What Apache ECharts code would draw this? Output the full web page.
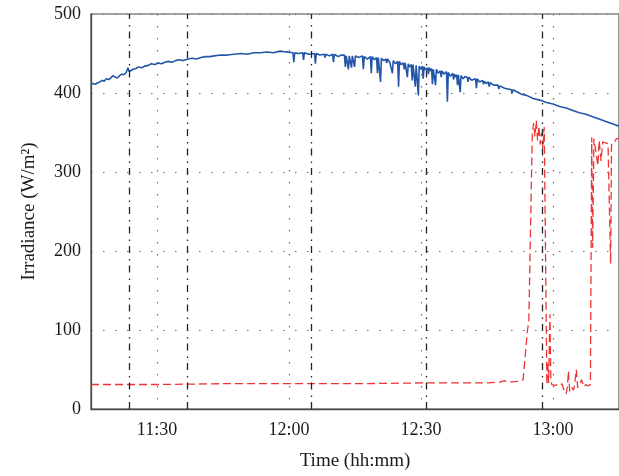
<!DOCTYPE html>
<html>
<head>
<meta charset="utf-8">
<title>Irradiance</title>
<script src="https://cdn.jsdelivr.net/npm/echarts@6/dist/echarts.min.js"></script>
<style>
  html, body { margin: 0; padding: 0; background: #fff; }
  #chart { width: 619px; height: 476px; }
</style>
</head>
<body>
<div id="chart"></div>
<script>
// Time is expressed in minutes since midnight (675 = 11:15, 795 = 13:15).
const timeTicks = [690, 720, 750, 780];
const irradianceTicks = [0, 100, 200, 300, 400, 500];

// Instants marked with dash-dot vertical lines.
const eventTimes = [683.6, 696.8, 725, 751.1, 777.5];

// Global irradiance (solid blue), [minute, W/m²].
const globalIrradiance = [
  [675,411],[675.5,412],[676,411],[676.5,413],[677,414],[677.5,416],[678,415],[678.5,418],
  [679,417],[679.5,419],[680,422],[680.5,420],[681,419],[681.5,422],[682,424],[682.5,423],
  [683,426],[683.4,432],[683.7,427],[684,429],[684.6,430],[685.2,431],[685.8,433],[686.5,432],
  [687.2,434],[688,435],[688.7,437],[689.5,436],[690.3,438],[691,437],[691.8,439],[692.6,440],
  [693.4,439],[694.2,441],[695,442],[696,441],[697,443],[698,444],[699,443],[700,445],
  [701,446],[702,446],[703,447],[704.5,448],[706,448],[707.5,449],[709,450],[710.5,449],
  [712,451],[713.5,451],[715,452],[716.5,451],[718,453],[719.3,452],
  [720.9,451],[721.1,439],[721.3,451],[722.2,450],
  [723.1,451],[723.3,442],[723.5,451],[724.5,449],
  [725.8,450],[726,437],[726.2,450],[727,448],
  [728,449],[728.2,445],[728.4,449],[729.2,447],
  [729.9,449],[730.1,439],[730.3,449],[731.2,446],[731.8,448],
  [732.6,448],[732.8,433],[733,447],[733.3,448],[733.5,430],[733.7,447],
  [734,448],[734.2,432],[734.4,447],[734.7,447],[734.9,433],[735.1,447],[735.8,445],
  [736.7,447],[736.9,430],[737.1,446],[737.8,443],
  [738.5,446],[738.7,425],[738.9,446],[739.4,442],
  [739.9,445],[740.1,425],[740.3,445],[740.6,444],[740.8,414],[741,444],[741.5,441],
  [742,443],[742.2,438],[742.4,443],[742.9,439],
  [743.3,441],[743.5,425],[743.7,441],[744.2,437],
  [744.7,440],[744.9,408],[745.1,440],[745.5,436],
  [746,438],[746.2,430],[746.4,438],
  [746.7,437],[746.9,420],[747.1,437],[747.4,433],
  [747.8,436],[748,416],[748.2,436],[748.5,435],[748.7,408],[748.9,435],
  [749.2,435],[749.4,397],[749.6,434],[749.9,430],
  [750.3,434],[750.5,418],[750.7,433],[751.1,429],
  [751.5,432],[751.7,424],[751.9,432],[752.1,428],
  [752.4,431],[752.6,411],[752.8,430],[753.1,430],[753.3,410],[753.5,430],[753.9,425],
  [754.4,428],[754.6,420],[754.8,428],[755.2,424],
  [755.8,427],[756,389],[756.2,426],[756.7,421],
  [757.2,425],[757.4,417],[757.6,424],[757.9,420],
  [758.1,423],[758.3,410],[758.5,423],[758.7,422],[758.9,401],[759.1,422],[759.6,418],
  [760,421],[760.5,420],[760.7,414],[760.9,420],[761.5,416],
  [762.4,418],[762.6,406],[762.8,418],[763.3,414],
  [764,416],[764.2,411],[764.4,415],[764.8,412],
  [765.3,414],[765.5,408],[765.7,413],[766.5,410],
  [767.5,410],[767.7,405],[767.9,409],[769,406],[769.8,405],
  [770.5,404],[770.7,400],[770.9,404],[772,401],[773,398],
  [774,397],[775.5,393],[777,391],[778.5,388],[780,386],[781.5,383],[783,381],[784.5,378],
  [786,375],[787.5,373],[789,370],[790.5,367],[792,364],[793.5,361],[795,358]
];

// Measured irradiance at the receiver (dashed red), [minute, W/m²].
const receiverIrradiance = [
  [675,31],[690,31],[705,32],[720,32],[735,32],[750,33],[765,33],[768,34],[769,36],
  [769.5,34],[772.5,35],[773.2,37],[774.2,100],[774.5,110],[775.3,350],[775.6,362],
  [775.9,345],[776.2,365],[776.5,340],[776.8,358],[777.1,335],[777.4,350],[777.7,330],
  [778,357],[778.3,200],[778.6,31],[778.8,60],[779,33],[779.3,120],[779.5,40],[779.7,31],
  [780.5,30],[781,31],[781.5,30],[782,32],[782.5,24],[783,19],[783.3,30],[783.5,48],
  [783.8,22],[784.2,27],[784.7,24],[785,35],[785.3,50],[785.6,27],[786,30],[786.5,37],
  [787,28],[787.5,31],[788,29],[788.5,31],[788.8,344],[789,204],[789.3,342],[789.7,340],
  [790.2,308],[790.5,340],[790.9,314],[791.3,338],[792,337],[792.5,336],[792.9,335],
  [793.1,184],[793.3,336],[794,338],[794.4,342],[795,343]
];

const serif = '"Liberation Serif", "DejaVu Serif", serif';

function hhmm(v) {
  const h = Math.floor(v / 60);
  const m = Math.round(v - h * 60);
  return h + ':' + (m < 10 ? '0' + m : m);
}

const chart = echarts.init(document.getElementById('chart'), null, { renderer: 'canvas' });

chart.setOption({
  animation: false,
  backgroundColor: '#ffffff',
  grid: {
    left: 91, right: -1, top: 14, bottom: 63,
    show: true, borderColor: '#4a4a4a', borderWidth: 1.2
  },
  xAxis: {
    type: 'value',
    min: 675,
    max: 795,
    name: 'Time (hh:mm)',
    nameLocation: 'middle',
    nameGap: 43,
    nameTextStyle: { fontFamily: serif, fontSize: 19, color: '#1a1a1a' },
    axisLine: { show: true, lineStyle: { color: '#4a4a4a', width: 1.3 } },
    axisTick: { show: false, customValues: timeTicks },
    axisLabel: {
      customValues: timeTicks,
      formatter: hhmm,
      fontFamily: serif, fontSize: 18, color: '#1a1a1a', margin: 12
    },
    splitLine: { show: true, lineStyle: { color: '#6a6a6a', type: [1.5, 10.5], width: 1.2 } }
  },
  yAxis: {
    type: 'value',
    min: 0,
    max: 500,
    interval: 100,
    name: 'Irradiance (W/m²)',
    nameLocation: 'middle',
    nameGap: 52,
    nameTextStyle: { fontFamily: serif, fontSize: 19, color: '#1a1a1a' },
    axisLine: { show: true, lineStyle: { color: '#4a4a4a', width: 1.3 } },
    axisTick: { show: false },
    axisLabel: {
      formatter: v => (irradianceTicks.indexOf(v) >= 0 ? String(v) : ''),
      fontFamily: serif, fontSize: 18, color: '#1a1a1a', margin: 10
    },
    splitLine: { show: true, lineStyle: { color: '#6a6a6a', type: [1.5, 10.5], width: 1.2 } }
  },
  series: [
    {
      type: 'line',
      name: 'Receiver',
      data: receiverIrradiance,
      showSymbol: false,
      symbol: 'none',
      sampling: false,
      lineStyle: { color: '#ee3535', width: 1.3, type: [8, 4] },
      z: 3
    },
    {
      type: 'line',
      name: 'Global',
      data: globalIrradiance,
      showSymbol: false,
      symbol: 'none',
      lineStyle: { color: '#2456a8', width: 1.6 },
      z: 4,
      markLine: {
        silent: true,
        symbol: ['none', 'none'],
        label: { show: false },
        lineStyle: { color: '#222', width: 1.3, type: [7, 5, 1.5, 6] },
        data: eventTimes.map(t => ({ xAxis: t }))
      }
    }
  ]
});
</script>
</body>
</html>
